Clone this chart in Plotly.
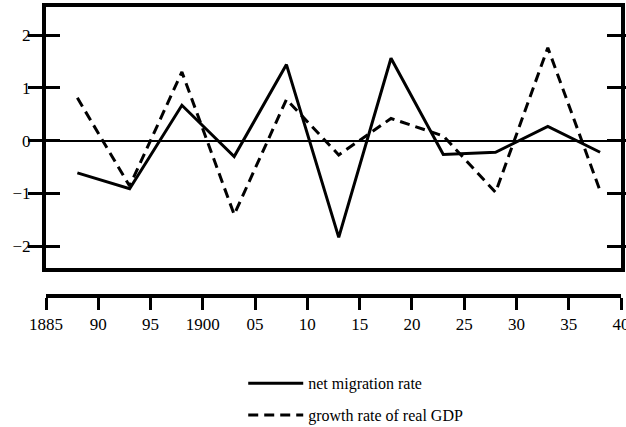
import plotly.graph_objects as go

years = [1888, 1893, 1898, 1903, 1908, 1913, 1918, 1923, 1928, 1933, 1938]
net_migration = [-0.61, -0.91, 0.67, -0.30, 1.44, -1.83, 1.56, -0.26, -0.22, 0.27, -0.22]
gdp_growth = [0.81, -0.86, 1.30, -1.40, 0.78, -0.27, 0.42, 0.09, -0.98, 1.76, -0.95]

x_tickvals = [1885, 1890, 1895, 1900, 1905, 1910, 1915, 1920, 1925, 1930, 1935, 1940]
x_ticktext = ["1885", "90", "95", "1900", "05", "10", "15", "20", "25", "30", "35", "40"]
y_tickvals = [-2, -1, 0, 1, 2]

FONT = "Liberation Serif"

fig = go.Figure()
fig.add_trace(go.Scatter(
    x=years, y=net_migration, mode="lines", name="net migration rate",
    line=dict(color="black", width=3), legendgroup="a"))
fig.add_trace(go.Scatter(
    x=years, y=gdp_growth, mode="lines", name="growth rate of real GDP",
    line=dict(color="black", width=3, dash="10px,6px"), legendgroup="b"))
# invisible trace to activate the lower time axis
fig.add_trace(go.Scatter(
    x=[x_tickvals[0], x_tickvals[-1]], y=[0, 0], xaxis="x2", yaxis="y",
    mode="lines", line=dict(width=0), showlegend=False, hoverinfo="skip"))

x_range = [1885, 1940]

fig.update_layout(
    width=626, height=427,
    margin=dict(l=46, r=5, t=7, b=131, autoexpand=False),
    paper_bgcolor="white", plot_bgcolor="white",
    font=dict(family=FONT, size=16, color="black"),
    showlegend=True,
    legend=dict(x=0.343, y=-0.243, xanchor="left", yanchor="top",
                font=dict(family=FONT, size=16), tracegroupgap=8,
                itemwidth=55, bgcolor="rgba(0,0,0,0)"),
    xaxis=dict(range=x_range, showline=True, linewidth=4, linecolor="black",
               mirror=True, showticklabels=False, ticks="", showgrid=False,
               zeroline=False, anchor="y", automargin=False),
    xaxis2=dict(range=x_range, overlaying="x", anchor="free", position=0,
                side="bottom", showline=True, linewidth=4, linecolor="black",
                tickmode="array", tickvals=x_tickvals, ticktext=x_ticktext,
                ticks="outside", ticklen=12, tickwidth=2.5, tickcolor="black",
                showgrid=False, zeroline=False, automargin=False,
                ticklabeloverflow="allow",
                tickfont=dict(family=FONT, size=17)),
    yaxis=dict(domain=[0.097, 1], range=[-2.41, 2.53], tickmode="array",
               tickvals=y_tickvals, ticks="inside", ticklen=14, tickwidth=3,
               tickcolor="black", mirror="allticks", showline=True,
               linewidth=4, linecolor="black", showgrid=False,
               zeroline=True, zerolinewidth=1.5, zerolinecolor="black",
               automargin=False, ticklabelstandoff=8,
               tickfont=dict(family=FONT, size=17)),
)

fig.write_html("out.html", config={"displayModeBar": False},
               post_script="document.body.style.margin='0px';")
